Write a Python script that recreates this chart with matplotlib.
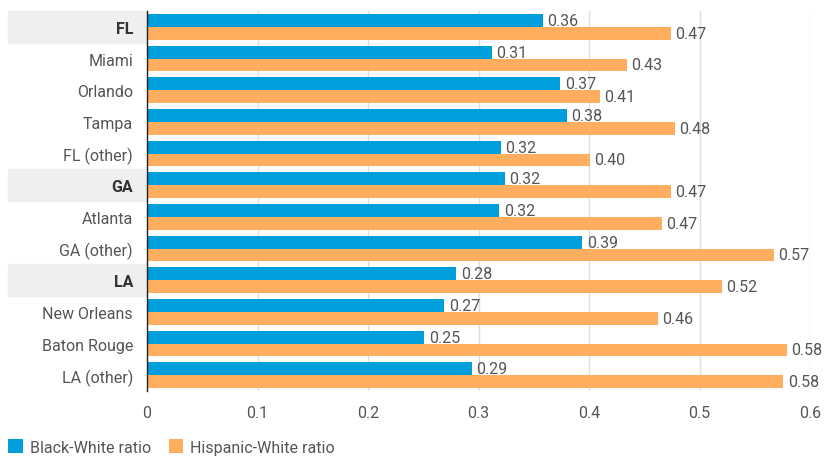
import matplotlib.pyplot as plt
from matplotlib.patches import Rectangle
import matplotlib.transforms as mtransforms
import numpy as np

regions = ['FL', 'Miami', 'Orlando', 'Tampa', 'FL (other)',
           'GA', 'Atlanta', 'GA (other)',
           'LA', 'New Orleans', 'Baton Rouge', 'LA (other)']
bold_rows = ['FL', 'GA', 'LA']
black_white = [0.358, 0.312, 0.374, 0.380, 0.320, 0.324, 0.319, 0.394,
               0.280, 0.269, 0.251, 0.294]
hispanic_white = [0.474, 0.434, 0.410, 0.478, 0.401, 0.474, 0.466, 0.567,
                  0.520, 0.462, 0.579, 0.576]

blue = '#009fdb'
orange = '#ffad5f'
text_col = '#555555'

plt.rcParams['font.family'] = ['Roboto', 'DejaVu Sans']

fig = plt.figure(figsize=(8.33, 4.6), dpi=100)
ax = fig.add_axes([147 / 833, 1 - 392 / 460, (810 - 147) / 833, 380 / 460])

y = np.arange(len(regions))
h = 0.41
ax.barh(y - h / 2, black_white, height=h, color=blue, zorder=2, label='Black-White ratio')
ax.barh(y + h / 2, hispanic_white, height=h, color=orange, zorder=2, label='Hispanic-White ratio')

# value labels at the end of each bar
for yi, v in zip(y, black_white):
    ax.text(v + 0.004, yi - h / 2, f'{v:.2f}', va='center', ha='left', fontsize=11.5, color=text_col)
for yi, v in zip(y, hispanic_white):
    ax.text(v + 0.004, yi + h / 2, f'{v:.2f}', va='center', ha='left', fontsize=11.5, color=text_col)

ax.set_ylim(len(regions) - 0.5, -0.5)
ax.set_xlim(0, 0.6)
ax.set_yticks(y)
ax.set_yticklabels(regions)
ax.set_xticks([0, 0.1, 0.2, 0.3, 0.4, 0.5, 0.6])
ax.set_xticklabels(['0', '0.1', '0.2', '0.3', '0.4', '0.5', '0.6'])
ax.tick_params(axis='both', length=0, labelsize=11.5, colors=text_col)
ax.tick_params(axis='y', pad=10)
ax.tick_params(axis='x', pad=10)
for lab in ax.get_yticklabels():
    if lab.get_text() in bold_rows:
        lab.set_fontweight('bold')
        lab.set_color('#333333')

ax.grid(axis='x', color='#dddddd', linewidth=1, zorder=0)
for s in ['top', 'right', 'bottom']:
    ax.spines[s].set_visible(False)
ax.spines['left'].set_color('#222222')
ax.spines['left'].set_linewidth(1)
ax.spines['left'].set_zorder(3)

# grey band behind the state rows
trans = mtransforms.blended_transform_factory(ax.transAxes, ax.transData)
x0 = (8 - 147) / (810 - 147)
for i, r in enumerate(regions):
    if r in bold_rows:
        ax.add_patch(Rectangle((x0, i - 0.5), -x0, 1.0, transform=trans,
                               color='#efefef', clip_on=False, zorder=0))

leg = fig.legend(loc='lower left', bbox_to_anchor=(2 / 833, -2 / 460), ncol=2, frameon=False,
                 fontsize=11.5, handlelength=0.9, handleheight=0.9, handletextpad=0.45,
                 columnspacing=1.1, borderaxespad=0.0)
for t in leg.get_texts():
    t.set_color(text_col)

fig.savefig('out.png', dpi=100)
